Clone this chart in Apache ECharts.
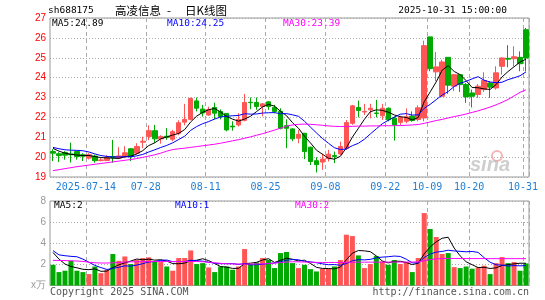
<!DOCTYPE html>
<html>
<head>
<meta charset="utf-8">
<title>高凌信息 日K线图</title>
<script src="https://cdn.jsdelivr.net/npm/echarts@6/dist/echarts.min.js"></script>
<style>html,body{margin:0;padding:0;background:#fff}#main{width:545px;height:300px}</style>
</head>
<body>
<div id="main"></div>
<script>
// trading days shown
var dates = ['07-04','07-07','07-08','07-09','07-10','07-11','07-14','07-15','07-16','07-17',
  '07-18','07-21','07-22','07-23','07-24','07-25','07-28','07-29','07-30','07-31',
  '08-01','08-04','08-05','08-06','08-07','08-08','08-11','08-12','08-13','08-14',
  '08-15','08-18','08-19','08-20','08-21','08-22','08-25','08-26','08-27','08-28',
  '08-29','09-01','09-02','09-03','09-04','09-05','09-08','09-09','09-10','09-11',
  '09-12','09-15','09-16','09-17','09-18','09-19','09-22','09-23','09-24','09-25',
  '09-26','09-29','09-30','10-09','10-10','10-13','10-14','10-15','10-16','10-17',
  '10-20','10-21','10-22','10-23','10-24','10-27','10-28','10-29','10-30','10-31'];
var tickDates = ['07-14','07-28','08-11','08-25','09-08','09-22','10-09','10-20','10-31'];
var tickText  = ['2025-07-14','07-28','08-11','08-25','09-08','09-22','10-09','10-20','10-31'];

var opens = [20.28,20.17,20.23,20.16,20.28,20.12,19.95,20.05,19.83,19.83,
  20.03,19.95,20.03,20.42,20.2,20.75,21.03,21.33,20.92,21.05,
  20.9,21.2,21.76,21.9,22.83,22.42,22.12,22.5,22.3,22.2,
  21.56,21.62,21.85,22.76,22.75,22.55,22.78,22.5,22.3,21.58,
  21.42,20.95,21.2,20.5,19.82,19.75,19.92,20.08,20.16,20.45,
  21.7,22.5,22.27,22.38,22.22,22.08,22.46,21.96,21.75,21.8,
  22.06,21.89,21.97,26.05,24.29,23.06,25.02,23.57,24.15,23.65,
  23.23,23.15,23.4,23.73,23.48,24.57,24.97,24.95,25.02,26.41];
var closes = [20.2,20.08,20.1,20.12,20.03,20.05,20.12,19.82,19.86,19.97,
  19.97,20.06,20.22,20.03,20.53,20.8,21.33,20.92,21.03,21.0,
  21.28,21.73,21.9,22.95,22.46,22.22,22.4,22.21,22.05,21.37,
  21.52,21.9,22.75,22.74,22.55,22.68,22.55,22.3,21.45,21.45,
  20.92,21.15,20.28,19.78,19.62,19.9,20.15,20.03,20.53,21.74,
  22.58,22.35,22.3,22.46,22.2,22.46,21.88,21.62,22.0,22.03,
  21.84,22.48,25.61,24.45,24.54,24.79,23.62,24.15,23.65,23.03,
  23.06,23.57,23.85,23.52,24.24,24.99,24.93,25.05,24.7,24.99];
var lows = [19.8,19.75,19.87,19.73,19.87,19.8,19.88,19.72,19.78,19.8,
  19.72,19.9,19.95,19.8,20.12,20.45,20.85,20.72,20.68,20.87,
  20.8,21.1,21.6,21.85,22.3,22.04,22.08,21.9,21.9,21.3,
  21.33,21.54,21.8,22.41,22.38,22.05,22.38,22.2,21.4,20.45,
  20.8,20.7,19.9,19.6,19.23,19.36,19.78,19.7,20.1,20.36,
  21.63,22.0,22.12,21.95,22.0,21.87,21.8,20.83,21.62,21.7,
  21.78,21.8,21.8,24.32,23.82,23.01,23.18,23.32,23.28,22.73,
  22.5,22.98,23.28,22.98,23.4,24.15,24.52,24.57,24.32,24.32];
var highs = [20.4,20.25,20.3,20.73,20.3,20.2,20.2,20.12,19.95,20.1,
  20.87,20.5,20.55,20.45,20.7,21.03,21.6,21.62,21.1,21.46,
  21.37,21.85,22.68,23.0,23.0,22.63,22.54,22.74,22.4,22.22,
  21.8,22.21,23.18,23.0,23.0,22.72,22.82,22.63,22.46,21.9,
  21.45,21.37,21.22,20.52,20.0,20.17,20.37,20.28,20.78,21.87,
  22.63,22.84,22.68,22.68,22.88,22.68,22.5,22.04,22.08,22.45,
  22.3,22.6,25.86,26.05,25.29,24.9,25.02,24.18,24.15,23.73,
  23.4,23.68,24.27,23.82,24.57,25.02,25.63,25.58,25.32,26.5];
// volume, 万手
var volumes = [1.96,1.27,1.4,2.34,1.4,1.27,1.08,1.8,1.17,1.49,
  2.98,2.34,2.75,2.03,2.44,2.6,2.66,2.28,2.22,1.8,
  1.4,2.6,2.6,3.32,2.03,2.12,1.71,1.27,1.8,1.8,
  1.49,1.8,3.45,2.03,2.19,2.6,2.44,1.65,3.07,3.17,
  2.12,1.65,1.96,1.55,1.33,1.59,1.59,1.8,2.41,4.81,
  4.68,2.85,1.65,2.03,2.79,2.28,1.96,2.41,2.03,2.22,
  1.27,2.6,6.86,5.35,4.59,2.98,3.07,1.74,1.65,1.8,
  1.59,1.71,1.87,1.08,2.12,2.69,2.12,2.22,1.4,2.09];

// MA30 (window starts before the visible range)
var ma30 = [19.32,19.37,19.42,19.47,19.52,19.56,19.6,19.64,19.68,19.72,
  19.76,19.8,19.84,19.88,19.93,19.99,20.05,20.12,20.2,20.3,
  20.38,20.42,20.45,20.49,20.53,20.57,20.61,20.65,20.7,20.76,
  20.82,20.88,20.95,21.02,21.1,21.18,21.27,21.36,21.46,21.56,
  21.62,21.65,21.66,21.65,21.63,21.6,21.57,21.55,21.54,21.54,
  21.55,21.56,21.56,21.57,21.57,21.58,21.58,21.58,21.59,21.6,
  21.62,21.64,21.7,21.77,21.84,21.9,21.97,22.04,22.1,22.17,
  22.25,22.33,22.42,22.52,22.63,22.76,22.9,23.08,23.26,23.39];
var volMa30 = [2.38,2.37,2.36,2.34,2.32,2.28,2.2,2.15,2.13,2.13,
  2.15,2.18,2.22,2.24,2.25,2.26,2.27,2.27,2.27,2.27,
  2.27,2.27,2.27,2.27,2.27,2.25,2.2,2.15,2.1,2.06,
  2.04,2.03,2.03,2.03,2.04,2.05,2.08,2.12,2.17,2.22,
  2.25,2.24,2.22,2.2,2.19,2.18,2.18,2.18,2.18,2.19,
  2.2,2.21,2.21,2.21,2.21,2.21,2.22,2.22,2.22,2.22,
  2.22,2.24,2.35,2.45,2.52,2.55,2.56,2.56,2.56,2.55,
  2.55,2.55,2.55,2.54,2.54,2.54,2.54,2.54,2.54,2.54];
// first MA points (their windows reach back before 07-04)
var ma5Head = [20.44,20.3,20.2,20.14];
var ma10Head = [20.49,20.42,20.37,20.35,20.34,20.32,20.26,20.16,20.08];
var volMa5Head = [3.13,2.5,2.03,1.8];
var volMa10Head = [3.3,2.9,2.82,2.76,2.72,2.5,2.2,1.9,1.7];

var maText = ['MA5:24.89','MA10:24.25','MA30:23.39'];
var volMaText = ['MA5:2','MA10:1','MA30:2'];

var RED = '#ff5555', GREEN = '#00aa00';
var MONO = '"DejaVu Sans Mono", "Liberation Mono", monospace';
var CJK = '"Noto Sans CJK SC", sans-serif';

function movingAvg(arr, n, head) {
    var out = [];
    for (var i = 0; i < arr.length; i++) {
        if (i < n - 1) { out.push(head[i]); continue; }
        var s = 0;
        for (var k = i - n + 1; k <= i; k++) s += arr[k];
        out.push(+(s / n).toFixed(3));
    }
    return out;
}

var kdata = [];
var vdata = [];
for (var i = 0; i < dates.length; i++) {
    kdata.push([opens[i], closes[i], lows[i], highs[i]]);
    vdata.push({value: volumes[i], itemStyle: {color: closes[i] >= opens[i] ? RED : GREEN}});
}

function isTick(idx) { return tickDates.indexOf(dates[idx]) >= 0; }

function lineSeries(name, data, color, ax) {
    return {
        name: name, type: 'line', data: data, xAxisIndex: ax, yAxisIndex: ax,
        symbol: 'none', smooth: false, z: 5, silent: true,
        lineStyle: {color: color, width: 1}
    };
}

var myChart = echarts.init(document.getElementById('main'), null, {renderer: 'canvas'});

function txt(text, x, y, color, align, font) {
    return {
        type: 'text', silent: true, z: 100,
        style: {
            text: text, x: x, y: y, fill: color,
            textAlign: align || 'left', textVerticalAlign: 'middle',
            font: font || ('9.5px ' + MONO)
        }
    };
}

var option = {
    animation: false,
    backgroundColor: '#fff',
    grid: [
        {left: 50, right: 16, top: 18, height: 159, show: true, borderColor: '#999', borderWidth: 1},
        {left: 50, right: 16, top: 201, height: 84.5, show: true, borderColor: '#999', borderWidth: 1}
    ],
    xAxis: [{
        type: 'category', gridIndex: 0, data: dates, boundaryGap: true,
        axisLine: {show: false}, axisTick: {show: false},
        axisLabel: {
            interval: function (idx) { return isTick(idx); },
            formatter: function (v) { return tickText[tickDates.indexOf(v)]; },
            color: '#1f7fd6', fontFamily: MONO, fontSize: 10, margin: 5,
            padding: [0, 6, 0, 0]
        },
        splitLine: {
            show: true,
            interval: function (idx) { return isTick(idx); },
            lineStyle: {color: '#aaa', type: [4, 3], width: 1}
        }
    }, {
        type: 'category', gridIndex: 1, data: dates, boundaryGap: true,
        axisLine: {show: false}, axisTick: {show: false}, axisLabel: {show: false},
        splitLine: {
            show: true,
            interval: function (idx) { return isTick(idx); },
            lineStyle: {color: '#aaa', type: [4, 3], width: 1}
        }
    }],
    yAxis: [{
        type: 'value', gridIndex: 0, min: 19, max: 27, interval: 1,
        axisLine: {show: false}, axisTick: {show: false},
        axisLabel: {color: '#ff0000', fontFamily: '"Liberation Sans", Arial, sans-serif', fontSize: 10, margin: 4},
        splitLine: {lineStyle: {color: '#aaa', type: [1, 2], width: 1}}
    }, {
        type: 'value', gridIndex: 1, min: 0, max: 8, interval: 2,
        axisLine: {show: false}, axisTick: {show: false},
        axisLabel: {
            color: '#999', fontFamily: '"Liberation Sans", Arial, sans-serif', fontSize: 10, margin: 4,
            formatter: function (v) { return v === 0 ? 'x万' : v; }
        },
        splitLine: {lineStyle: {color: '#aaa', type: [1, 2], width: 1}}
    }],
    series: [
        {
            type: 'candlestick', xAxisIndex: 0, yAxisIndex: 0, data: kdata, barWidth: 5, silent: true,
            itemStyle: {color: RED, color0: GREEN, borderColor: RED, borderColor0: GREEN, borderWidth: 1}
        },
        lineSeries('MA5', movingAvg(closes, 5, ma5Head), '#000000', 0),
        lineSeries('MA10', movingAvg(closes, 10, ma10Head), '#0000ff', 0),
        lineSeries('MA30', ma30, '#ff00ff', 0),
        {type: 'bar', xAxisIndex: 1, yAxisIndex: 1, data: vdata, barWidth: 5, silent: true},
        lineSeries('VMA5', movingAvg(volumes, 5, volMa5Head), '#000000', 1),
        lineSeries('VMA10', movingAvg(volumes, 10, volMa10Head), '#0000ff', 1),
        lineSeries('VMA30', volMa30, '#ff00ff', 1)
    ],
    graphic: [
        txt('sh688175', 48, 11, '#000'),
        txt('高凌信息', 115, 11, '#000', 'left', '11.5px ' + CJK),
        txt('-', 169, 11, '#000', 'center', '11.5px ' + CJK),
        txt('日K线图', 185, 11, '#000', 'left', '11.5px ' + CJK),
        txt('2025-10-31 15:00:00', 507, 11, '#000', 'right'),
        txt(maText[0], 52, 24, '#000'),
        txt(maText[1], 167, 24, '#0000ff'),
        txt(maText[2], 283, 24, '#ff00ff'),
        txt(volMaText[0], 54, 206, '#000'),
        txt(volMaText[1], 175, 206, '#0000ff'),
        txt(volMaText[2], 295, 206, '#ff00ff'),
        txt('Copyright 2025 SINA.COM', 50, 292, '#555', 'left', '10px ' + MONO),
        txt('http://finance.sina.com.cn', 529, 292, '#555', 'right', '10px ' + MONO),
        txt('sina', 470, 165, 'rgba(190,190,190,0.75)', 'left', 'italic bold 20px "Liberation Sans", Arial, sans-serif'),
        {type: 'circle', silent: true, z: 99, shape: {cx: 497, cy: 156, r: 5},
         style: {fill: 'none', stroke: 'rgba(240,150,150,0.7)', lineWidth: 2}}
    ]
};
myChart.setOption(option);
</script>
</body>
</html>
